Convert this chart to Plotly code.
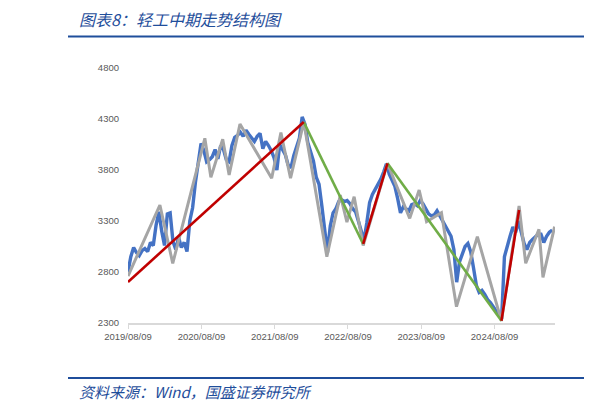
import plotly.graph_objects as go
import pandas as pd

# ---- données ----
# indice (bleu) : un point tous les 14 jours depuis 2019/08/09
INDEX_START = "2019-08-09"
index_values = [
    2800, 2950, 3040, 2990, 2960, 3010, 3030, 3000, 3090, 3060,
    3260, 3390, 3200, 3060, 3370, 3380, 3100, 3020, 3140, 3040,
    3090, 3000, 3300, 3430, 3680, 3900, 4060, 3990, 3880, 3900,
    3930, 4000, 3910, 4040, 4000, 3900, 3880, 4040, 4120, 4140,
    4170, 4130, 4190, 4150, 4120, 4080, 4130, 4160, 4010, 4080,
    4040, 3990, 3920, 3800, 4050, 4000, 3950, 3850, 3820, 3940,
    4030, 4110, 4320, 4250, 4070, 3990, 3890, 3730, 3660, 3450,
    3200, 2990, 3250, 3380, 3420, 3490, 3510, 3490, 3500, 3470,
    3420, 3390, 3300, 3190, 3110, 3280, 3480, 3560, 3610, 3660,
    3710, 3780, 3860, 3760, 3690, 3640, 3520, 3380, 3440, 3420,
    3400, 3460, 3470, 3450, 3500, 3470, 3420, 3370, 3350, 3360,
    3400, 3350, 3300, 3260, 3210, 3150, 3020, 2700, 2900, 2980,
    3050, 3080, 3000, 2840, 2670, 2600, 2620, 2580, 2530, 2500,
    2460, 2410, 2370, 2340, 2950, 3060, 3150, 3240, 3190, 3300,
    3180, 3080, 3020, 3090, 3120, 3150, 3170, 3170, 3090, 3150,
    3190, 3210,
]

# structure fine (gris) : points de retournement
zig_dates = [
    "2019-08-09", "2020-01-15", "2020-03-19", "2020-08-26", "2020-09-25",
    "2020-11-23", "2020-12-25", "2021-02-17", "2021-07-25", "2021-09-09",
    "2021-10-27", "2022-01-01", "2022-04-26", "2022-07-02", "2022-08-04",
    "2022-09-09", "2022-10-24", "2023-02-22", "2023-06-13", "2023-07-30",
    "2023-09-05", "2023-11-18", "2024-02-01", "2024-05-15", "2024-09-12",
    "2024-12-09", "2025-01-11", "2025-03-18", "2025-04-07", "2025-06-04",
]
zig_values = [
    2760, 3457, 2885, 4111, 3728, 4101, 3751, 4251, 3719, 4166,
    3719, 4270, 2950, 3555, 3290, 3538, 3060, 3866, 3326, 3604,
    3293, 3381, 2460, 3146, 2320, 3447, 2885, 3219, 2748, 3244,
]

# tendance moyen terme : segments haussiers (rouge) et baissiers (vert)
up_segments = [
    (["2019-08-09", "2022-01-01"], [2702, 4270]),
    (["2022-10-24", "2023-02-22"], [3075, 3866]),
    (["2024-09-12", "2024-12-09"], [2322, 3408]),
]
down_segments = [
    (["2022-01-01", "2022-10-24"], [4270, 3075]),
    (["2023-02-22", "2024-09-12"], [3866, 2322]),
]

tick_dates = ["2019-08-09", "2020-08-09", "2021-08-09", "2022-08-09", "2023-08-09", "2024-08-09"]
tick_labels = ["2019/08/09", "2020/08/09", "2021/08/09", "2022/08/09", "2023/08/09", "2024/08/09"]
y_ticks = [2300, 2800, 3300, 3800, 4300, 4800]

TITLE = "图表8：轻工中期走势结构图"
SOURCE = "资料来源：Wind，国盛证券研究所"
BLUE_TXT = "#1f4e9b"

index_dates = pd.date_range(INDEX_START, periods=len(index_values), freq="14D")

fig = go.Figure()

fig.add_trace(go.Scatter(
    x=index_dates, y=index_values, mode="lines",
    line=dict(color="#4472C4", width=3.4), showlegend=False,
))
fig.add_trace(go.Scatter(
    x=zig_dates, y=zig_values, mode="lines",
    line=dict(color="#A5A5A5", width=3), showlegend=False,
))
for xs, ys in down_segments:
    fig.add_trace(go.Scatter(x=xs, y=ys, mode="lines",
                             line=dict(color="#70AD47", width=2.6), showlegend=False))
for xs, ys in up_segments:
    fig.add_trace(go.Scatter(x=xs, y=ys, mode="lines",
                             line=dict(color="#C00000", width=2.6), showlegend=False))

# ── habillage façon rapport ─────────────────────────────────────────────
# la page ajoute 8 px de marge autour de la figure : on travaille en
# coordonnées écran puis on décale
OFF = 8
W, H = 611 - OFF, 410 - OFF
L, T = 128 - OFF, 68 - OFF
R = W - (555 - OFF)
B = H - (323 - OFF)
pw, ph = W - L - R, H - T - B


def px(x):
    return (x - OFF - L) / pw


def py(y):
    return (H - B - (y - OFF)) / ph


def hline(x0, x1, y):
    return dict(type="line", xref="paper", yref="paper", x0=px(x0), x1=px(x1), y0=py(y), y1=py(y),
                line=dict(color=BLUE_TXT, width=2))


shapes = [
    hline(68, 584, 36.5), hline(606, 611, 36.5),
    hline(68, 584, 378), hline(606, 611, 378),
]

annotations = [
    dict(text=f"<i>{TITLE}</i>", xref="paper", yref="paper", x=px(78), y=py(19),
         xanchor="left", yanchor="middle", showarrow=False, borderpad=0,
         font=dict(family="Noto Sans CJK SC", size=16, color=BLUE_TXT)),
    dict(text=f"<i>{SOURCE}</i>", xref="paper", yref="paper", x=px(78), y=py(391),
         xanchor="left", yanchor="middle", showarrow=False, borderpad=0,
         font=dict(family="Noto Sans CJK SC", size=15, color=BLUE_TXT)),
]

fig.update_layout(
    width=W, height=H,
    margin=dict(l=L, r=R, t=T, b=B),
    plot_bgcolor="white", paper_bgcolor="white",
    shapes=shapes, annotations=annotations,
    font=dict(family="Liberation Sans", size=9.5, color="#595959"),
)
fig.update_xaxes(
    type="date", range=["2019-08-09", "2025-06-06"],
    tickvals=tick_dates, ticktext=tick_labels,
    showgrid=False, zeroline=False,
    showline=True, linecolor="#D9D9D9", linewidth=1.5,
    ticks="outside", ticklen=4, tickcolor="#D9D9D9",
)
fig.update_yaxes(
    range=[2300, 4800], tickvals=y_ticks,
    showgrid=False, zeroline=False, showline=False, ticks="",
    ticklabelstandoff=8,
)

fig.write_html("out.html")
